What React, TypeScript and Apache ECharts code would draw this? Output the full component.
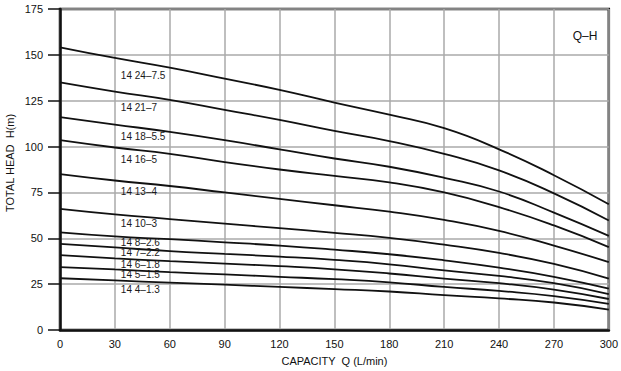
import React, { useEffect, useRef } from "react";
import * as echarts from "echarts";

const capacity = [0, 30, 60, 90, 120, 150, 180, 210, 240, 270, 300];
const yTicks = [0, 25, 50, 75, 100, 125, 150, 175];

const pumpNames = ["14 24–7.5", "14 21–7", "14 18–5.5", "14 16–5", "14 13–4", "14 10–3", "14 8–2.6", "14 7–2.2", "14 6–1.8", "14 5–1.5", "14 4–1.3"];

const h24 = [154.1, 148.3, 143, 137, 130.9, 124, 117.4, 110, 98.5, 84.4, 68.6];
const h21 = [135, 130, 125.5, 120, 114.5, 108.5, 103, 96, 87, 74.5, 59.7];
const h18 = [116, 112, 108, 103.5, 98.5, 93.5, 89, 83, 75.5, 64, 51.3];
const h16 = [103.5, 99.5, 96, 91.5, 87.5, 84, 80.5, 75, 67, 57, 45.2];
const h13 = [85, 81.5, 78.5, 75, 71.5, 68, 64.5, 60, 54, 46, 37];
const h10 = [66, 63, 60.5, 58, 55.5, 53, 50.2, 46.5, 42, 36, 28];
const h8 = [53.2, 51, 49.5, 47.8, 46, 43.8, 41.3, 38, 34, 29, 22.6];
const h7 = [47, 45, 43, 41.5, 40, 38.2, 35.8, 32.5, 29.5, 25.5, 19.6];
const h6 = [40.8, 39, 37.5, 36.2, 34.8, 33.1, 30.8, 28, 25.5, 22, 16.9];
const h5 = [34.3, 33, 31.5, 30.3, 29, 27.7, 26, 23.5, 21.3, 18.5, 14.2];
const h4 = [28.2, 27, 25.8, 24.7, 23.5, 22.3, 21, 19, 17.2, 15, 11.1];

const heads = [h24, h21, h18, h16, h13, h10, h8, h7, h6, h5, h4];

// anchor of each curve's name label, in chart values (Q, H)
const labelQ = 33;
const labelH = [139, 121.3, 105.5, 93, 75.4, 57.8, 47.6, 42.2, 35.6, 30.1, 22.3];

const FONT = "'Liberation Sans', Arial, sans-serif";

export default function App() {
  const ref = useRef<HTMLDivElement>(null);

  useEffect(() => {
    if (!ref.current) return;
    const chart = echarts.init(ref.current, null, { renderer: "svg" });

    const series = heads.map((h, i) => ({
      type: "line",
      name: pumpNames[i],
      data: capacity.map((q, j) => [q, h[j]]),
      smooth: 0.5,
      symbol: "none",
      lineStyle: { color: "#111", width: 1.8 },
      silent: true,
      markPoint: {
        symbol: "circle",
        symbolSize: 1,
        itemStyle: { color: "rgba(0,0,0,0)" },
        data: [
          {
            coord: [labelQ, labelH[i]],
            label: {
              show: true,
              formatter: pumpNames[i],
              position: "right",
              distance: 0,
              color: "#1a1a1a",
              fontSize: 10,
              lineHeight: 10,
              fontFamily: FONT,
            },
          },
        ],
      },
    }));

    chart.setOption({
      animation: false,
      backgroundColor: "#fff",
      grid: {
        left: 60,
        right: 11,
        top: 9,
        bottom: 41,
        show: true,
        borderColor: "#111",
        borderWidth: 2.5,
        backgroundColor: "transparent",
      },
      xAxis: {
        type: "value",
        min: 0,
        max: 300,
        interval: 30,
        name: "CAPACITY  Q (L/min)",
        nameLocation: "middle",
        nameGap: 25,
        nameTextStyle: { color: "#111", fontSize: 11, fontFamily: FONT },
        axisLine: { show: true, lineStyle: { color: "#111", width: 2.5 } },
        axisTick: { show: false },
        axisLabel: { color: "#111", fontSize: 11, fontFamily: FONT, margin: 8 },
        splitLine: { show: true, lineStyle: { color: "#aaa", width: 1.5 } },
      },
      yAxis: {
        type: "value",
        min: yTicks[0],
        max: yTicks[yTicks.length - 1],
        interval: 25,
        axisLine: { show: true, lineStyle: { color: "#111", width: 2.5 } },
        axisTick: { show: true, length: 12, lineStyle: { color: "#111", width: 1.5 } },
        axisLabel: { color: "#111", fontSize: 11, fontFamily: FONT, margin: 17 },
        splitLine: { show: true, lineStyle: { color: "#aaa", width: 1.5 } },
      },
      graphic: [
        {
          type: "text",
          x: 10,
          y: 163,
          rotation: Math.PI / 2,
          style: {
            text: "TOTAL HEAD  H(m)",
            fill: "#111",
            fontSize: 11,
            fontFamily: FONT,
            textAlign: "center",
            textVerticalAlign: "middle",
          },
        },
        {
          type: "text",
          x: 585,
          y: 36,
          style: {
            text: "Q–H",
            fill: "#111",
            fontSize: 12,
            fontFamily: FONT,
            textAlign: "center",
            textVerticalAlign: "middle",
          },
        },
      ],
      series,
    });

    return () => chart.dispose();
  }, []);

  return (
    <div
      ref={ref}
      style={{ position: "fixed", left: 0, top: 0, width: 621, height: 371, background: "#fff" }}
    />
  );
}
